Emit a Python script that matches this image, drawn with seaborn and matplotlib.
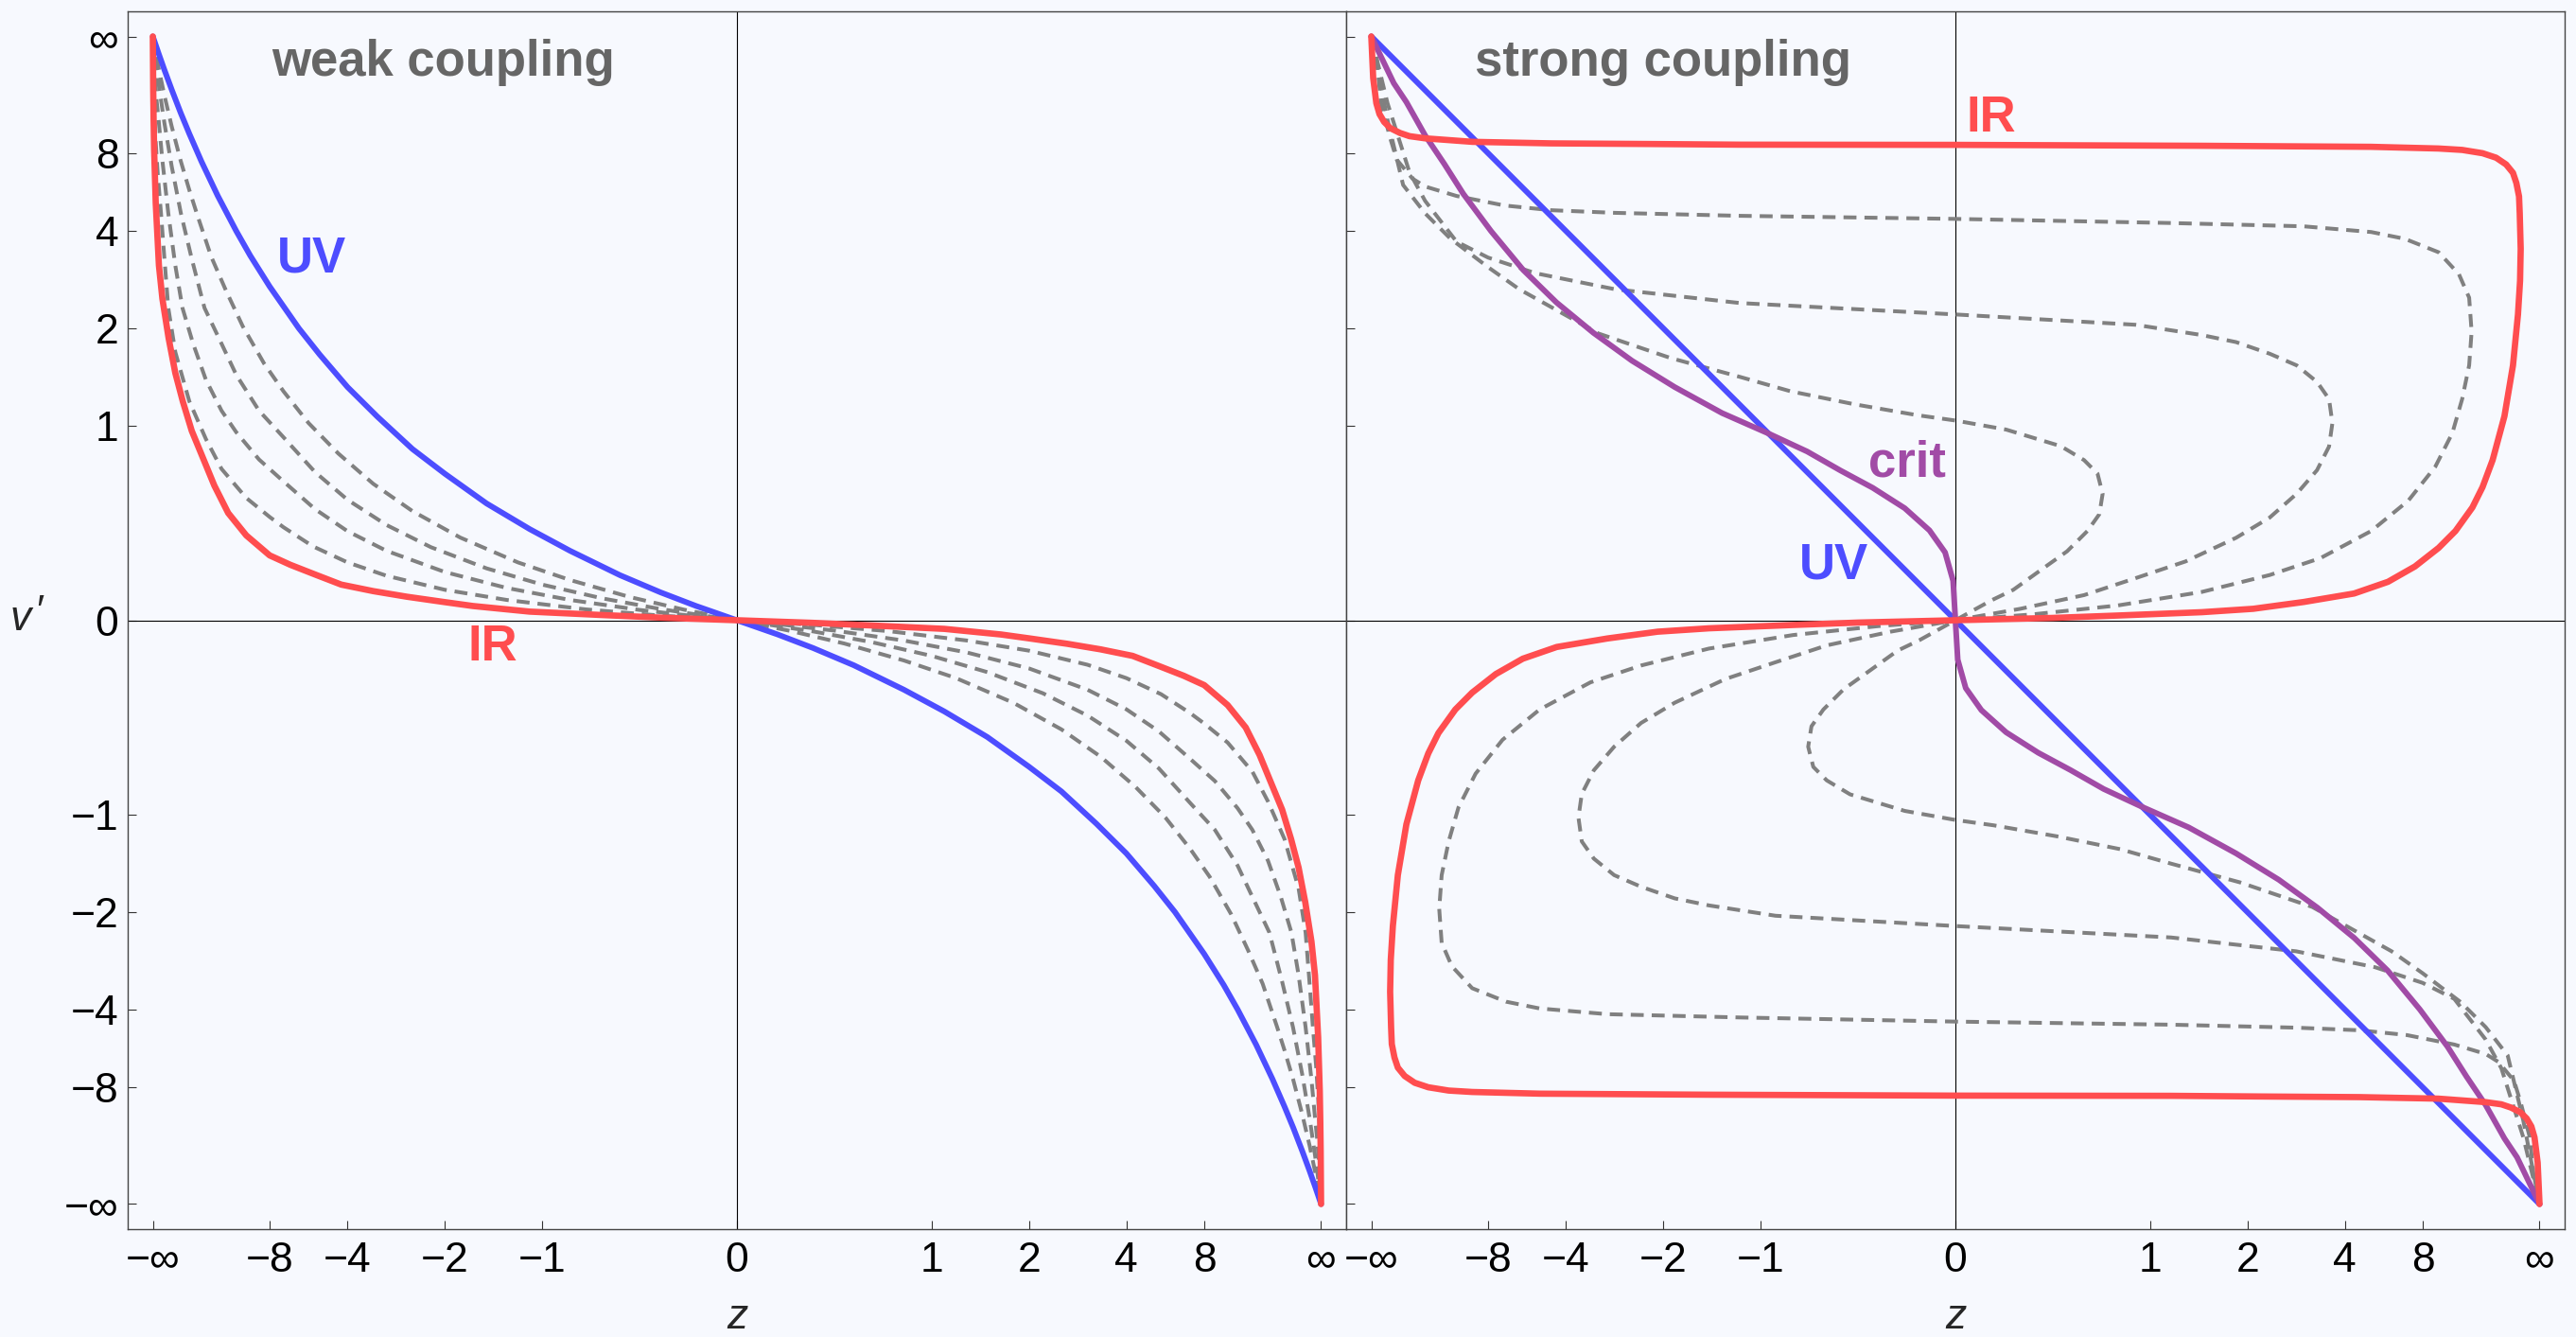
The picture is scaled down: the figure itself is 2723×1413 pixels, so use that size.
import numpy as np
import pandas as pd
import matplotlib
matplotlib.use("Agg")
import matplotlib.pyplot as plt
import seaborn as sns

inf = np.inf

# ---------------- data ----------------
tick_vals = [-inf, -8, -4, -2, -1, 0, 1, 2, 4, 8, inf]
tick_labels = ["\u2212\u221e", "\u22128", "\u22124", "\u22122", "\u22121", "0",
               "1", "2", "4", "8", "\u221e"]

# weak coupling panel
weak_uv_z = [-inf, -200, -100, -60, -40, -30, -22, -16, -12, -10, -8, -6, -5, -4, -3.2, -2.5, -2, -1.5,
             -1.1, -0.8, -0.5, -0.3, -0.15, 0,
             0.15, 0.3, 0.5, 0.8, 1.1, 1.5, 2, 2.5, 3.2, 4, 5, 6, 8, 10, 12, 16, 22, 30, 40, 60, 100,
             200, inf]
weak_uv_v = [inf, 66.7, 33.3, 20, 13.3, 10, 7.33, 5.33, 4, 3.33, 2.67, 2, 1.67, 1.33, 1.07, 0.83, 0.67,
             0.5, 0.37, 0.27, 0.167, 0.1, 0.05, 0,
             -0.05, -0.1, -0.167, -0.27, -0.37, -0.5, -0.67, -0.83, -1.07, -1.33, -1.67, -2, -2.67,
             -3.33, -4, -5.33, -7.33, -10, -13.3, -20, -33.3, -66.7, -inf]

weak_ir_z = [-inf, -3000, -1500, -900, -400, -190, -120, -72, -50, -37, -28, -21.6, -17, -13.5, -10.5, -8,
             -6.5, -5.2, -4.2, -3.3, -2.6, -2, -1.65, -1.1, -0.6, -0.3, 0,
             0.3, 0.6, 1.1, 1.65, 2, 2.6, 3.3, 4.2, 5.2, 6.5, 8, 10.5, 13.5, 17, 21.6, 28, 37, 50, 72,
             120, 190, 400, 900, 1500, 3000, inf]
weak_ir_v = [inf, 20, 12, 8.3, 5.0, 3.1, 2.45, 1.87, 1.47, 1.2, 0.96, 0.78, 0.6, 0.45, 0.34, 0.25,
             0.21, 0.17, 0.13, 0.105, 0.084, 0.064, 0.05, 0.03, 0.018, 0.009, 0,
             -0.009, -0.018, -0.03, -0.05, -0.064, -0.084, -0.105, -0.13, -0.17, -0.21, -0.25, -0.34,
             -0.45, -0.6, -0.78, -0.96, -1.2, -1.47, -1.87, -2.45, -3.1, -5.0, -8.3, -12, -20, -inf]

weak_d1_z = [-inf, -200, -100, -60, -40, -30, -24.6, -18, -14, -11, -8.5, -6.94, -5.5, -4.3, -3.3, -2.5,
             -1.8, -1.2, -0.8, -0.45, -0.2, 0,
             0.2, 0.45, 0.8, 1.2, 1.8, 2.5, 3.3, 4.3, 5.5, 6.94, 8.5, 11, 14, 18, 24.6, 30, 40, 60, 100,
             200, inf]
weak_d1_v = [inf, 35, 18, 11, 7.4, 5.6, 4.6, 3.3, 2.6, 2.03, 1.57, 1.29, 1.02, 0.8, 0.61, 0.46, 0.33,
             0.22, 0.148, 0.083, 0.037, 0,
             -0.037, -0.083, -0.148, -0.22, -0.33, -0.46, -0.61, -0.8, -1.02, -1.29, -1.57, -2.03,
             -2.6, -3.3, -4.6, -5.6, -7.4, -11, -18, -35, -inf]

weak_d2_z = [-inf, -300, -160, -100, -60, -39.6, -28, -20.6, -15, -12, -9, -6.94, -5.2, -4, -3, -2.2,
             -1.5, -1, -0.6, -0.3, -0.12, 0,
             0.12, 0.3, 0.6, 1, 1.5, 2.2, 3, 4, 5.2, 6.94, 9, 12, 15, 20.6, 28, 39.6, 60, 100, 160, 300,
             inf]
weak_d2_v = [inf, 33, 18.5, 11.6, 7, 4.6, 3.25, 2.3, 1.8, 1.45, 1.12, 0.913, 0.68, 0.52, 0.39, 0.286,
             0.195, 0.13, 0.078, 0.039, 0.016, 0,
             -0.016, -0.039, -0.078, -0.13, -0.195, -0.286, -0.39, -0.52, -0.68, -0.913, -1.12, -1.45,
             -1.8, -2.3, -3.25, -4.6, -7, -11.6, -18.5, -33, -inf]

weak_d3_z = [-inf, -600, -300, -200, -120, -73.5, -50, -37.4, -27, -20, -15, -12, -9, -6.94, -5.2, -4,
             -3, -2, -1.3, -0.8, -0.4, -0.15, 0,
             0.15, 0.4, 0.8, 1.3, 2, 3, 4, 5.2, 6.94, 9, 12, 15, 20, 27, 37.4, 50, 73.5, 120, 200, 300,
             600, inf]
weak_d3_v = [inf, 28, 16, 12, 7.4, 4.6, 3.1, 2.3, 1.8, 1.4, 1.12, 0.95, 0.76, 0.624, 0.47, 0.36, 0.27,
             0.18, 0.117, 0.072, 0.036, 0.0135, 0,
             -0.0135, -0.036, -0.072, -0.117, -0.18, -0.27, -0.36, -0.47, -0.624, -0.76, -0.95, -1.12,
             -1.4, -1.8, -2.3, -3.1, -4.6, -7.4, -12, -16, -28, -inf]

weak_d4_z = [-inf, -1500, -700, -400, -230, -141, -100, -73.5, -50, -30, -20, -15, -10.5, -8, -6.94,
             -5.3, -4, -3, -2, -1.3, -0.7, -0.3, 0,
             0.3, 0.7, 1.3, 2, 3, 4, 5.3, 6.94, 8, 10.5, 15, 20, 30, 50, 73.5, 100, 141, 230, 400, 700,
             1500, inf]
weak_d4_v = [inf, 22, 13, 9, 6.4, 4.6, 3.3, 2.3, 1.7, 1.2, 0.9, 0.7, 0.53, 0.43, 0.379, 0.29, 0.22,
             0.165, 0.11, 0.072, 0.038, 0.016, 0,
             -0.016, -0.038, -0.072, -0.11, -0.165, -0.22, -0.29, -0.379, -0.43, -0.53, -0.7, -0.9,
             -1.2, -1.7, -2.3, -3.3, -4.6, -6.4, -9, -13, -22, -inf]

# strong coupling panel
strong_uv_z = [-inf, -10, -3, -1, 0, 1, 3, 10, inf]
strong_uv_v = [inf, 10, 3, 1, 0, -1, -3, -10, -inf]

strong_crit_z = [-inf, -50, -31.3, -19.7, -14, -10.7, -7.76, -5.69, -4.31, -3.26, -2.48, -1.85, -1.33,
                 -0.94, -0.68, -0.49, -0.33, -0.19, -0.093, -0.036, -0.008, 0,
                 0.008, 0.036, 0.093, 0.19, 0.33, 0.49, 0.68, 0.94, 1.33, 1.85, 2.48, 3.26, 4.31, 5.69,
                 7.76, 10.7, 14, 19.7, 31.3, 50, inf]
strong_crit_v = [inf, 23, 15.8, 9.8, 7.16, 5.42, 4.0, 3.0, 2.39, 1.94, 1.6, 1.33, 1.1, 0.94, 0.813,
                 0.69, 0.587, 0.475, 0.364, 0.263, 0.145, 0,
                 -0.145, -0.263, -0.364, -0.475, -0.587, -0.69, -0.813, -0.94, -1.1, -1.33, -1.6, -1.94,
                 -2.39, -3.0, -4.0, -5.42, -7.16, -9.8, -15.8, -23, -inf]

strong_ir_z = [-inf, -623, -230, -141, -89, -58.8, -38.8, -28.6, -19.7, -9.55, -4.49, -2.26, -1.17, 0,
               1.46, 4.94, 9.58, 13.1, 18.5, 24.9, 33, 42, 48.4, 55, 57, 60, 58, 52.2, 42, 31.3, 22.9,
               18.5, 15.4, 11.9, 9.58, 7.38, 5.71, 4.3, 2.95, 2.08, 1.46, 0.77, 0.4, 0,
               -0.4, -0.77, -1.46, -2.08, -2.95, -4.3, -5.71, -7.38, -9.58, -11.9, -15.4, -18.5, -22.9,
               -31.3, -42, -52.2, -58, -60, -57, -55, -48.4, -42, -33, -24.9, -18.5, -13.1, -9.58, -4.94,
               -1.46, 0, 1.17, 2.26, 4.49, 9.55, 19.7, 28.6, 38.8, 58.8, 89, 141, 230, 623, inf]
strong_ir_v = [inf, 26.2, 15.5, 13.05, 11.66, 10.72, 10.1, 9.71, 9.46, 9.08, 8.92, 8.86, 8.79, 8.77,
               8.68, 8.58, 8.42, 8.29, 8.0, 7.63, 7.12, 6.56, 5.97, 5.3, 4.6, 3.5, 2.78, 2.2, 1.55, 1.075,
               0.756, 0.591, 0.479, 0.361, 0.283, 0.203, 0.141, 0.096, 0.0645, 0.04, 0.028, 0.0163,
               0.008, 0,
               -0.008, -0.0163, -0.028, -0.04, -0.0645, -0.096, -0.141, -0.203, -0.283, -0.361, -0.479,
               -0.591, -0.756, -1.075, -1.55, -2.2, -2.78, -3.5, -4.6, -5.3, -5.97, -6.56, -7.12, -7.63,
               -8.0, -8.29, -8.42, -8.58, -8.68, -8.77, -8.79, -8.86, -8.92, -9.08, -9.46, -9.71, -10.1,
               -10.72, -11.66, -13.05, -15.5, -26.2, -inf]

strong_da_z = [-inf, -230, -118, -60, -43.8, -26.3, -19.7, -11.7, -6.8, -4.5, -2.8, -1.17, 0, 1.15, 2.95,
               4.94, 6.67, 9.58, 12.5, 14.6, 15.2, 14.6, 13.1, 11.4, 9.2, 6.9, 4.94, 3.33, 2.33, 1.46, 0.77,
               0.3, 0,
               -0.3, -0.77, -1.46, -2.33, -3.33, -4.94, -6.9, -9.2, -11.4, -13.1, -14.6, -15.2, -14.6, -12.5,
               -9.58, -6.67, -4.94, -2.95, -1.15, 0, 1.17, 2.8, 4.5, 6.8, 11.7, 19.7, 26.3, 43.8, 60, 118,
               230, inf]
strong_da_v = [inf, 58, 15.5, 9.5, 7.47, 6.21, 5.78, 5.32, 4.91, 4.72, 4.62, 4.51, 4.4, 4.26, 4.15, 3.97,
               3.77, 3.41, 2.91, 2.47, 1.955, 1.55, 1.22, 0.944, 0.713, 0.515, 0.361, 0.238, 0.168, 0.102,
               0.052, 0.02, 0,
               -0.02, -0.052, -0.102, -0.168, -0.238, -0.361, -0.515, -0.713, -0.944, -1.22, -1.55, -1.955,
               -2.47, -2.91, -3.41, -3.77, -3.97, -4.15, -4.26, -4.4, -4.51, -4.62, -4.72, -4.91, -5.32,
               -5.78, -6.21, -7.47, -9.5, -15.5, -58, -inf]

strong_db_z = [-inf, -70, -28.6, -19.7, -11.7, -8, -5.1, -2.8, -1.17, 0, 0.89, 1.46, 1.85, 2.33, 2.81,
               3.25, 3.55, 3.64, 3.55, 3.25, 2.81, 2.33, 1.85, 1.3, 0.89, 0.565, 0.25, 0,
               -0.25, -0.565, -0.89, -1.3, -1.85, -2.33, -2.81, -3.25, -3.55, -3.64, -3.55, -3.25, -2.81,
               -2.33, -1.85, -1.46, -0.89, 0, 1.17, 2.8, 5.1, 8, 11.7, 19.7, 28.6, 70, inf]
strong_db_v = [inf, 15.5, 6.6, 5.1, 3.69, 3.28, 2.93, 2.62, 2.38, 2.2, 2.05, 1.91, 1.82, 1.68, 1.55, 1.38,
               1.22, 1.02, 0.847, 0.692, 0.553, 0.427, 0.329, 0.224, 0.155, 0.09, 0.04, 0,
               -0.04, -0.09, -0.155, -0.224, -0.329, -0.427, -0.553, -0.692, -0.847, -1.02, -1.22, -1.38,
               -1.55, -1.68, -1.82, -1.91, -2.05, -2.2, -2.38, -2.62, -2.93, -3.28, -3.69, -5.1, -6.6,
               -15.5, -inf]

strong_dc_z = [-inf, -70, -34.7, -19.7, -12.8, -8, -5.9, -3.14, -1.9, -1.17, -0.785, -0.42, -0.14, 0, 0.19,
               0.44, 0.565, 0.643, 0.674, 0.654, 0.584, 0.473, 0.355, 0.22, 0.13, 0,
               -0.13, -0.22, -0.355, -0.473, -0.584, -0.654, -0.674, -0.643, -0.565, -0.44, -0.19, 0, 0.14,
               0.42, 0.785, 1.17, 1.9, 3.14, 5.9, 8, 12.8, 19.7, 34.7, 70, inf]
strong_dc_v = [inf, 12, 5.86, 4.6, 3.78, 3.06, 2.62, 1.93, 1.63, 1.43, 1.29, 1.175, 1.083, 1.04, 0.97,
               0.85, 0.756, 0.671, 0.553, 0.444, 0.361, 0.268, 0.196, 0.11, 0.07, 0,
               -0.07, -0.11, -0.196, -0.268, -0.361, -0.444, -0.553, -0.671, -0.756, -0.85, -0.97, -1.04,
               -1.083, -1.175, -1.29, -1.43, -1.63, -1.93, -2.62, -3.06, -3.78, -4.6, -5.86, -12, -inf]

# ---------------- styling ----------------
BG = "#F7F9FE"
BLUE = "#4D4DFF"
RED = "#FF4D4F"
PURPLE = "#A14BA6"
GRAY = "#808080"
TXT_GRAY = "#666666"

sns.set_style("ticks")
plt.rcParams["font.family"] = ["Liberation Sans", "DejaVu Sans"]
plt.rcParams["axes.linewidth"] = 1.0


def compact(a):
    a = np.asarray(a, dtype=float)
    with np.errstate(invalid="ignore", divide="ignore"):
        t = a / (np.abs(a) + 2.0)
    return np.where(np.isinf(a), np.sign(a), t)


def draw(ax, z, v, color, lw, dashed=False, zorder=3):
    df = pd.DataFrame({"z": compact(z), "v": compact(v)})
    kw = {}
    if dashed:
        kw["linestyle"] = (0, (3.4, 2.1))
    else:
        kw["solid_capstyle"] = "round"
    kw["solid_joinstyle"] = "round"
    kw["dash_joinstyle"] = "round"
    sns.lineplot(data=df, x="z", y="v", sort=False, estimator=None, ax=ax,
                 color=color, lw=lw, zorder=zorder, legend=False, **kw)


W, H = 2723, 1413
fig = plt.figure(figsize=(W / 100, H / 100), dpi=100)
fig.patch.set_facecolor(BG)

bottom = 1 - 1299 / H
height = (1299 - 12) / H
ax1 = fig.add_axes([135 / W, bottom, 1288 / W, height])
ax2 = fig.add_axes([1423 / W, bottom, 1288 / W, height])

lim = 1.043
tpos = compact(tick_vals)

# weak coupling curves
for z, v in [(weak_d1_z, weak_d1_v), (weak_d2_z, weak_d2_v),
             (weak_d3_z, weak_d3_v), (weak_d4_z, weak_d4_v)]:
    draw(ax1, z, v, GRAY, 2.9, dashed=True, zorder=2)
draw(ax1, weak_uv_z, weak_uv_v, BLUE, 4.3, zorder=3)
draw(ax1, weak_ir_z, weak_ir_v, RED, 4.8, zorder=4)

# strong coupling curves
for z, v in [(strong_da_z, strong_da_v), (strong_db_z, strong_db_v),
             (strong_dc_z, strong_dc_v)]:
    draw(ax2, z, v, GRAY, 2.9, dashed=True, zorder=2)
draw(ax2, strong_uv_z, strong_uv_v, BLUE, 4.3, zorder=3)
draw(ax2, strong_crit_z, strong_crit_v, PURPLE, 4.3, zorder=4)
draw(ax2, strong_ir_z, strong_ir_v, RED, 4.8, zorder=5)

for ax in (ax1, ax2):
    ax.set_facecolor(BG)
    ax.set_xlim(-lim, lim)
    ax.set_ylim(-lim, lim)
    ax.axhline(0, color="black", lw=0.8, zorder=1)
    ax.axvline(0, color="black", lw=0.8, zorder=1)
    ax.set_xticks(tpos)
    ax.set_xticklabels(tick_labels)
    ax.set_yticks(tpos)
    ax.tick_params(axis="both", direction="in", length=6.5, width=0.8,
                   color="#333333", labelsize=32, labelcolor="black")
    ax.tick_params(axis="x", pad=9)
    ax.tick_params(axis="y", pad=7)
    ax.set_xlabel("")
    ax.set_ylabel("")
    for s in ax.spines.values():
        s.set_color("#444444")
        s.set_linewidth(1.0)
        s.set_visible(True)

ax1.set_yticklabels(tick_labels)
ax2.set_yticklabels([])


def ftext(x, y, s, **kw):
    fig.text(x / W, 1 - y / H, s, **kw)


lab = dict(fontsize=38, fontweight="bold", ha="center", va="baseline")
ftext(469, 80, "weak coupling", color=TXT_GRAY, **lab)
ftext(1758, 80, "strong coupling", color=TXT_GRAY, **lab)
ftext(329, 288, "UV", color=BLUE, **lab)
ftext(521, 698, "IR", color=RED, **lab)
ftext(2105, 139, "IR", color=RED, **lab)
ftext(2016, 503, "crit", color=PURPLE, **lab)
ftext(1938, 612, "UV", color=BLUE, **lab)

ftext(22, 655, "v", fontsize=32, style="italic", ha="center", va="center")
ftext(42, 648, "\u2032", fontsize=32, ha="center", va="center")
ftext(779, 1392, "z", fontsize=32, style="italic", ha="center", va="center")
ftext(2067, 1392, "z", fontsize=32, style="italic", ha="center", va="center")

fig.savefig("out.png", dpi=100, facecolor=BG)
